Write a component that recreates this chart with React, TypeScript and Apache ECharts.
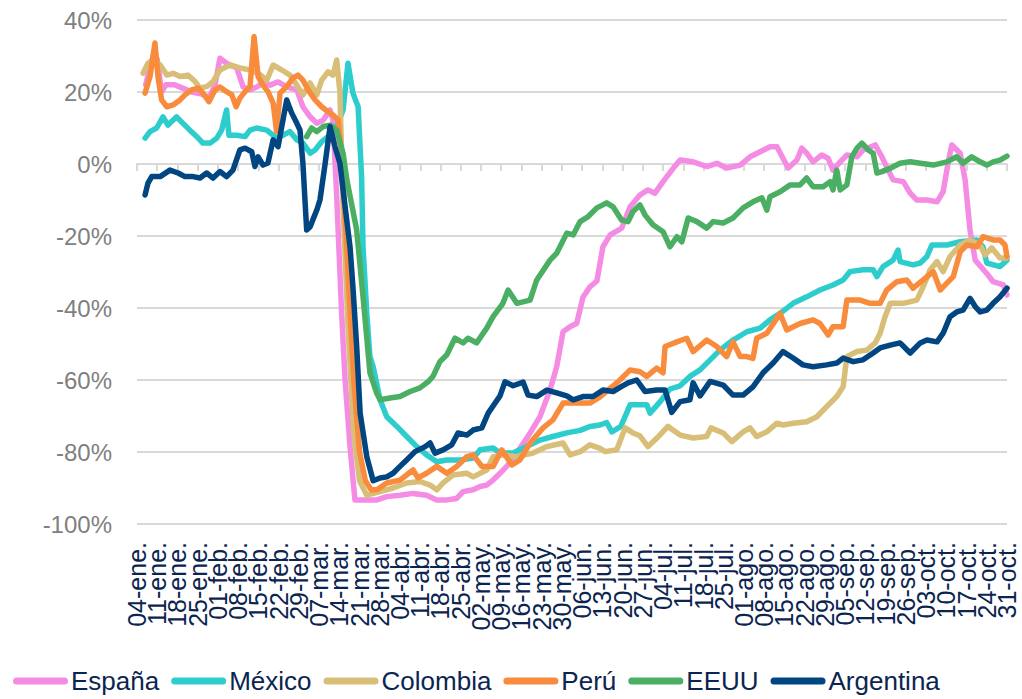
import React, { useEffect, useRef } from "react";
import * as echarts from "echarts";

// Weekly tick labels (one every 7 days, day 0 = 04-ene.)
const tickLabels = [
  "04-ene.", "11-ene.", "18-ene.", "25-ene.", "01-feb.", "08-feb.", "15-feb.", "22-feb.", "29-feb.",
  "07-mar.", "14-mar.", "21-mar.", "28-mar.", "04-abr.", "11-abr.", "18-abr.", "25-abr.",
  "02-may.", "09-may.", "16-may.", "23-may.", "30-may.", "06-jun.", "13-jun.", "20-jun.", "27-jun.",
  "04-jul.", "11-jul.", "18-jul.", "25-jul.", "01-ago.", "08-ago.", "15-ago.", "22-ago.", "29-ago.",
  "05-sep.", "12-sep.", "19-sep.", "26-sep.", "03-oct.", "10-oct.", "17-oct.", "24-oct.", "31-oct.",
];

const seriesNames = ["España", "México", "Colombia", "Perú", "EEUU", "Argentina"];
const seriesColors = ["#F58CE4", "#2DCDCD", "#D9BE77", "#F98B3C", "#4AAF62", "#014581"];

// [day since 04-ene., % change]
const espana = [
  [3, 22], [4.5, 27], [6, 31], [7, 29], [8.5, 20], [10, 22], [13, 22], [16, 21], [19, 20], [22, 19.5],
  [25, 18.5], [27, 22], [28.7, 29.4], [31, 28], [34.5, 26.7], [36.7, 21.4], [39, 20.6], [41.4, 21.4],
  [43.6, 22.5], [46, 21.9], [48.8, 22.8], [51.8, 21.4], [55.3, 20.6], [57.4, 15.9], [59.9, 13.1],
  [62.2, 11.3], [64.4, 12.2], [66.8, 15], [67.8, 12.2], [69.1, -9], [70.8, -41.5], [72, -60],
  [73.7, -78.5], [75.4, -93.3], [83, -93.3], [86.4, -92.4], [91, -92], [95.5, -91.5], [100.2, -92],
  [103.7, -93.3], [107.2, -93.3], [110.6, -92.9], [112.8, -91], [116.3, -90.5], [118.7, -89.6],
  [121, -89.2], [123.2, -87.8], [125.6, -85.9], [127.9, -84], [131.4, -80.3], [136, -74.7],
  [139.4, -70.2], [142.9, -62.8], [145.2, -56.3], [147.4, -46.6], [149.8, -45.2], [152.1, -44.3],
  [154.3, -37], [156.7, -34.1], [159.1, -32.5], [161.2, -23], [163.7, -19.7], [167.7, -17.8],
  [170.6, -11.9], [174, -8.6], [176.8, -7.2], [179.2, -8.1], [182, -4.9], [185.5, -1.2], [187.9, 1.1],
  [192.4, 0.6], [197.1, -0.7], [200.6, 0.2], [204, -1.1], [208.7, -0.3], [212.1, 2], [215.6, 3.4],
  [219, 4.8], [221.4, 4.8], [223.5, 1.6], [225.3, -1.1], [228.3, 1.1], [230, 4.4], [231.7, 3],
  [233.9, 0.6], [236.9, 2.5], [239.1, 1.6], [240.8, -1.7], [243.3, 0.6], [245.6, 2.5], [249.1, 2],
  [251.2, 3.9], [255.4, 5.3], [257.7, 2], [259.9, -1.7], [261.6, -4.4], [265.1, -4.9], [267.5, -8.1],
  [269.8, -10], [273.3, -10], [276.8, -10.5], [278.9, -7.7], [280.6, 0.2], [281.9, 5.3], [284.8, 3],
  [286.5, -4.4], [288.2, -18.3], [290, -26.7], [294, -30.4], [296.2, -32.7], [299.7, -33.6], [301, -36.4],
];

const mexico = [
  [2.8, 7.2], [4.5, 9], [6.8, 10], [9, 13.1], [10.7, 10.8], [13.7, 13.1], [15.9, 11.3], [18.3, 9.4],
  [20.7, 7.6], [22.8, 5.8], [25.3, 5.8], [27.6, 7.2], [29.3, 9.4], [31, 15], [31.8, 8], [34.5, 8],
  [37.4, 7.6], [39.1, 9.4], [41.4, 10], [44.9, 9.4], [48.3, 7.2], [50.5, 8], [52.9, 9], [55.3, 6.7],
  [57.4, 5.8], [59.9, 3], [61.6, 3.9], [63.9, 6.2], [66.1, 7.6], [69.1, 10.4], [71.3, 15], [73, 28],
  [74.7, 19.7], [76.5, 15.9], [77.7, -3.5], [78.2, -23], [79.5, -41.5], [80.6, -53.5], [81.7, -56.3],
  [84.1, -65.5], [86.4, -70.2], [89.9, -72.9], [93.3, -75.7], [96.8, -78.5], [100.2, -80.8],
  [103.7, -82.7], [107.2, -82.2], [111.8, -82.2], [116.3, -81.7], [118.7, -79.4], [123.2, -78.9],
  [125.6, -80.3], [130.1, -80.3], [134.8, -78.5], [139.4, -76.7], [143.9, -75.7], [148.7, -74.7],
  [153.3, -74], [156.7, -72.9], [160.2, -72.5], [162.5, -71.8], [164.3, -74.4], [167.4, -72.9],
  [170.6, -66.9], [176.4, -66.9], [177.5, -69.2], [181, -66], [184.4, -62.5], [187.9, -61.6],
  [191.3, -59], [194.8, -57.2], [198.3, -54.4], [201.7, -51.7], [206.2, -48.9], [211, -46.6],
  [215.6, -45.6], [219, -43.3], [222.5, -41.5], [227, -38.7], [231.7, -36.9], [236.3, -35],
  [240.8, -33.6], [244.3, -32.2], [246.7, -29.9], [251.2, -29.4], [254.7, -29.4], [256, -31.3],
  [258.1, -28.5], [261.6, -26.7], [263.3, -23.9], [264, -27.1], [268.5, -28], [271, -27.5],
  [273.3, -25.7], [275, -22.5], [280.2, -22.5], [284.8, -21.6], [290.6, -21.1], [292.7, -23],
  [294, -27.5], [298.6, -28.5], [301, -26.7],
];

const colombia = [
  [2.1, 25.2], [3.8, 28], [5.5, 28.9], [8, 27.5], [10.3, 24.7], [12.5, 25.2], [14.9, 24.3], [17.6, 24.7],
  [20.1, 22.9], [21.8, 21.1], [24.1, 21.5], [26.3, 22.9], [28.7, 26.1], [32.2, 27.5], [35.6, 26.7],
  [39.1, 26.1], [41.9, 25.2], [44.9, 23.3], [47.1, 27.5], [50.1, 26.1], [52.9, 24.7], [55.3, 21.9],
  [57.4, 19.2], [59.9, 22.5], [62.2, 19.2], [63.9, 23.3], [66.1, 25.6], [67.8, 24.7], [69.1, 28.9],
  [70.2, 20], [71.3, -12], [73, -45], [75, -75], [77, -88], [79.5, -92], [84.1, -91], [88.6, -90],
  [93.3, -88.6], [97.9, -88.2], [101.4, -89.2], [103.7, -90.5], [105.9, -88.6], [109.3, -86.4],
  [114.1, -85.9], [116.3, -86.9], [121, -85], [123.2, -81.3], [126.6, -80.8], [131.4, -81.3],
  [137, -80.3], [141.8, -78.5], [147.4, -77.5], [149.8, -80.8], [153.3, -79.9], [156.7, -78],
  [160.2, -79], [162, -79.9], [166, -79.4], [168.9, -73.3], [171.6, -74.7], [174, -75.5],
  [176.8, -78.5], [179.8, -76.2], [183.7, -72.9], [187.9, -75.3], [192.4, -76.1], [197.1, -75.7],
  [198.6, -73.3], [202.8, -74.7], [205.8, -77.1], [209.7, -74.4], [212.1, -73.3], [214.4, -75.7],
  [217.9, -74.4], [221.4, -72], [223.5, -72.5], [227, -72], [231.7, -71.6], [235.2, -70.2],
  [238.6, -67.4], [242.1, -64.6], [244.3, -61.9], [245.6, -53.5], [249.1, -52.1], [252.5, -51.7],
  [255.4, -49.7], [257.1, -47], [258.8, -42.4], [260.6, -38.7], [265.1, -38.7], [269.8, -37.8],
  [272, -34.1], [274.4, -29.4], [276.8, -27.1], [278.9, -29.9], [281.3, -25.7], [284.8, -22.5],
  [288.2, -21.1], [291.7, -22.5], [293.4, -25.3], [295.7, -23.3], [298.6, -26.1], [301, -26.1],
];

const peru = [
  [2.8, 19.7], [4.5, 24.3], [6.2, 33.6], [7.3, 24], [8.5, 17.8], [10.3, 15.9], [12.5, 16.4], [14.9, 17.8],
  [16.6, 19.2], [18.9, 20.6], [21.1, 21.1], [22.8, 19.7], [24.9, 17.3], [27, 20.6], [28.7, 21.4],
  [31, 20.1], [32.8, 19.2], [34.3, 15.9], [35.6, 18.3], [37.4, 20.1], [39.1, 21.5], [40.5, 35.4],
  [41.9, 24.3], [43.6, 21.9], [45.3, 20.1], [47.1, 16.9], [48.3, 9], [49.5, 19.7], [51.8, 21.5],
  [54, 23.9], [55.7, 24.7], [57.4, 23.3], [59.2, 20.6], [61.6, 17.8], [63.9, 15.9], [66.1, 14.5],
  [67.8, 13.6], [69.6, 12.2], [71, 0], [73, -30], [75, -60], [77, -80], [79, -88], [81, -90.5],
  [83, -90.5], [86.4, -88.6], [91, -87.8], [95.5, -85], [97.2, -87.2], [100.2, -85.9], [103.7, -84],
  [107.2, -85.9], [110.6, -84], [114.1, -81.3], [116.3, -80.8], [119.3, -84], [123.2, -84],
  [126.2, -79.4], [129.7, -83.6], [132.5, -82.2], [136, -77.5], [140.5, -73.3], [143.9, -71.1],
  [147.4, -66.4], [152.1, -66.4], [156.7, -66.4], [160.2, -64.7], [167.1, -60], [170.6, -57.2],
  [174, -57.7], [176.4, -59], [179.8, -56.7], [182, -58], [182.7, -50.7], [186.8, -49.4],
  [190.2, -48.4], [192.4, -52.1], [197.1, -48.9], [200.6, -50.7], [204, -53.5], [206.2, -49.4],
  [208.7, -53.5], [211, -53.5], [213.1, -54], [214.4, -48.4], [217.9, -47], [222.5, -41.5],
  [224.8, -46.1], [229.4, -44.3], [233.9, -43.3], [236.3, -44.3], [239.1, -47.5], [240.8, -45.2],
  [244.3, -45.2], [245.6, -37.8], [250.2, -37.8], [253.6, -38.7], [257.1, -38.7], [259.4, -35],
  [262.9, -32.7], [266.3, -32.2], [268.5, -34.5], [272, -32.2], [275.5, -29.9], [277.9, -35],
  [280.2, -33.1], [282.4, -31.3], [284.8, -24.4], [287.1, -22.5], [290.6, -23], [292.7, -20.2],
  [296.2, -21.1], [298.6, -21.1], [300.3, -22.5], [301, -25.7],
];

const eeuu = [
  [58.7, 7.6], [60.4, 10], [62.2, 9], [64.4, 10.4], [66.8, 10.8], [69.1, 9.4], [71.3, 3], [72.6, -4.4],
  [76, -18.3], [78.2, -36.9], [80.6, -58], [82.9, -63.6], [84.1, -65.5], [87.5, -65], [91, -64.6],
  [94.5, -63.2], [97.9, -62.2], [100.7, -60.5], [102.4, -59], [104.8, -54.9], [107.2, -53],
  [110, -48.4], [112.8, -49.7], [114.5, -48.4], [117.5, -49.7], [121, -45.6], [123.2, -42.4],
  [126.6, -38.7], [128.4, -35], [131.4, -38.7], [136, -37.8], [138.3, -32.2], [142.9, -26.7],
  [145.2, -24.8], [148.7, -19.2], [150.9, -19.7], [153.3, -16], [156.1, -14.6], [159.1, -12.2],
  [162.5, -10.8], [164.7, -11.9], [167.7, -15.6], [169.9, -16], [171.6, -13.2], [174, -11.4],
  [175.8, -14.2], [178.5, -16.9], [182, -18.8], [184.4, -23], [186.8, -20.2], [188.5, -21.6],
  [190.7, -15], [193.7, -16], [197.1, -17.8], [199.3, -16], [202.8, -16.4], [206.2, -15],
  [209.7, -12.2], [213.1, -10.5], [216.2, -9.4], [217.9, -12.8], [219, -9.1], [222.5, -7.7],
  [226, -5.8], [229.4, -5.8], [231.7, -3.9], [233.9, -6.3], [237.4, -6.3], [239.8, -4.9],
  [240.8, -7.2], [242.1, -1.7], [243.3, -7.2], [245.6, -5.8], [247.3, 2], [249.1, 4.4], [250.8, 5.8],
  [253, 3.9], [254.7, 3], [256, -2.5], [257.7, -2.1], [260.6, -1.2], [264, 0.2], [267.5, 0.6],
  [271, 0.2], [275.5, -0.3], [280.2, 0.6], [283.6, 2], [285.8, 0.2], [288.8, 2], [291.7, 0.6],
  [294, -0.3], [296.2, 0.6], [298.6, 1.1], [301, 2.2],
];

const argentina = [
  [2.8, -8.6], [3.8, -5.3], [5.1, -3.5], [8, -3.5], [11.4, -1.7], [14.2, -2.5], [16.6, -3.5],
  [19.4, -3.5], [21.8, -3.9], [24.1, -2.5], [26.3, -3.9], [28.7, -2.1], [31, -3.5], [33.2, -1.7],
  [35.6, 3.9], [37.4, 4.4], [39.7, 3.4], [40.8, -0.7], [41.9, 2], [43.6, -0.3], [45.3, 0.3],
  [47.1, 6.7], [48.8, 4.8], [50.5, 12.2], [51.8, 17.8], [53.5, 14.2], [55.3, 11.3], [56.4, 9.4],
  [57.4, 0.2], [58.7, -18.3], [59.9, -17.4], [62.2, -12.8], [63.3, -10], [65.1, 0.2], [66.8, 10.4],
  [68.5, 4.8], [70.2, 0.2], [72, -11.9], [73.7, -23], [74.7, -34.1], [76, -50.7], [77.2, -69.2],
  [79.5, -81.3], [81.7, -88], [84.1, -87.2], [86.4, -86.9], [88.6, -85.9], [91, -84], [93.3, -82.2],
  [96.2, -79.9], [99.7, -78.5], [101.4, -77.5], [103.1, -80.3], [105.9, -79.4], [108.9, -78],
  [111.1, -74.7], [114.1, -75.3], [116.3, -73.9], [119.3, -73.3], [121.5, -69.2], [123.9, -66.4],
  [125.6, -64.4], [127.3, -60.5], [130.1, -61.6], [133.6, -60.6], [135.3, -64.2], [138.3, -64.6],
  [141.8, -62.8], [145.2, -63.6], [148.7, -64.4], [150.9, -65.5], [154.3, -64.6], [157.8, -64.6],
  [161.2, -62.8], [164.7, -63.2], [167.4, -61.9], [169.9, -60.8], [172.9, -60], [175.8, -63.2],
  [179.8, -62.8], [182.7, -62.8], [185, -69], [187.9, -66], [191.3, -65.5], [192.4, -60.8],
  [194.8, -64.4], [198.3, -60.4], [202.8, -61.4], [206.2, -64.2], [209.7, -64.2], [213.1, -61.9],
  [216.6, -58], [220.1, -55.3], [223.5, -52.1], [227, -53.9], [230.4, -55.8], [233.9, -56.3],
  [238.6, -55.8], [242.1, -55.3], [244.3, -53.9], [247.8, -54.9], [251.2, -54.4], [254.7, -52.5],
  [257.1, -51.1], [260.6, -50.3], [264, -49.7], [267.5, -52.5], [271, -49.7], [273.3, -48.9],
  [276.8, -49.4], [278.9, -47], [281.3, -42.4], [283.6, -41.1], [285.8, -40.6], [288.2, -37.3],
  [290, -39.6], [291.7, -41.1], [294, -40.6], [296.2, -38.7], [298.6, -36.9], [301, -34.5],
];

const seriesData = [espana, mexico, colombia, peru, eeuu, argentina];

const FONT = "'Liberation Sans', Arial, sans-serif";
const GRID_GRAY = "#D9D9D9";
const TEXT_NAVY = "#0B2550";

export default function App() {
  const ref = useRef<HTMLDivElement>(null);

  useEffect(() => {
    if (!ref.current) return;
    const chart = echarts.init(ref.current, undefined, { renderer: "svg" });
    chart.setOption({
      animation: false,
      backgroundColor: "#ffffff",
      textStyle: { fontFamily: FONT },
      grid: { left: 137, right: 15, top: 20, bottom: 175, containLabel: false },
      legend: {
        left: 8,
        top: 665,
        padding: [2, 5, 2, 5],
        itemWidth: 55,
        itemHeight: 7,
        itemGap: 12,
        icon: "path://M3.5,0 L51.5,0 A3.5,3.5 0 0 1 51.5,7 L3.5,7 A3.5,3.5 0 0 1 3.5,0 Z",
        textStyle: {
          fontFamily: FONT,
          fontSize: 26,
          lineHeight: 28,
          color: TEXT_NAVY,
          padding: [0, 0, 0, -2],
        },
        data: seriesNames,
      },
      xAxis: [
        {
          type: "value",
          min: 0,
          max: 301,
          interval: 7,
          position: "bottom",
          axisLine: { show: true, onZero: true, lineStyle: { color: GRID_GRAY, width: 2 } },
          axisTick: { show: true, inside: false, length: 7, lineStyle: { color: GRID_GRAY, width: 2 } },
          axisLabel: { show: false },
          splitLine: { show: false },
        },
        {
          type: "category",
          data: tickLabels,
          boundaryGap: false,
          position: "bottom",
          axisLine: { show: false, onZero: false },
          axisTick: { show: false },
          splitLine: { show: false },
          axisLabel: {
            show: true,
            interval: 0,
            rotate: 90,
            margin: 18,
            fontSize: 25,
            fontFamily: FONT,
            color: TEXT_NAVY,
            hideOverlap: false,
          },
        },
      ],
      yAxis: {
        type: "value",
        min: -100,
        max: 40,
        interval: 20,
        axisLine: { show: false },
        axisTick: { show: false },
        splitLine: { show: true, lineStyle: { color: GRID_GRAY, width: 2 } },
        axisLabel: {
          margin: 25,
          fontSize: 24,
          fontFamily: FONT,
          color: "#7F7F7F",
          formatter: (v: number) => `${v}%`,
        },
      },
      series: seriesNames.map((name, i) => ({
        name,
        type: "line",
        xAxisIndex: 0,
        data: seriesData[i],
        showSymbol: false,
        symbol: "none",
        smooth: false,
        color: seriesColors[i],
        lineStyle: { width: 5.5, color: seriesColors[i], cap: "round", join: "round" },
        z: 2 + i,
      })),
    });
    return () => chart.dispose();
  }, []);

  return (
    <div
      ref={ref}
      style={{ position: "fixed", left: 0, top: 0, width: 1022, height: 699, background: "#fff" }}
    />
  );
}
